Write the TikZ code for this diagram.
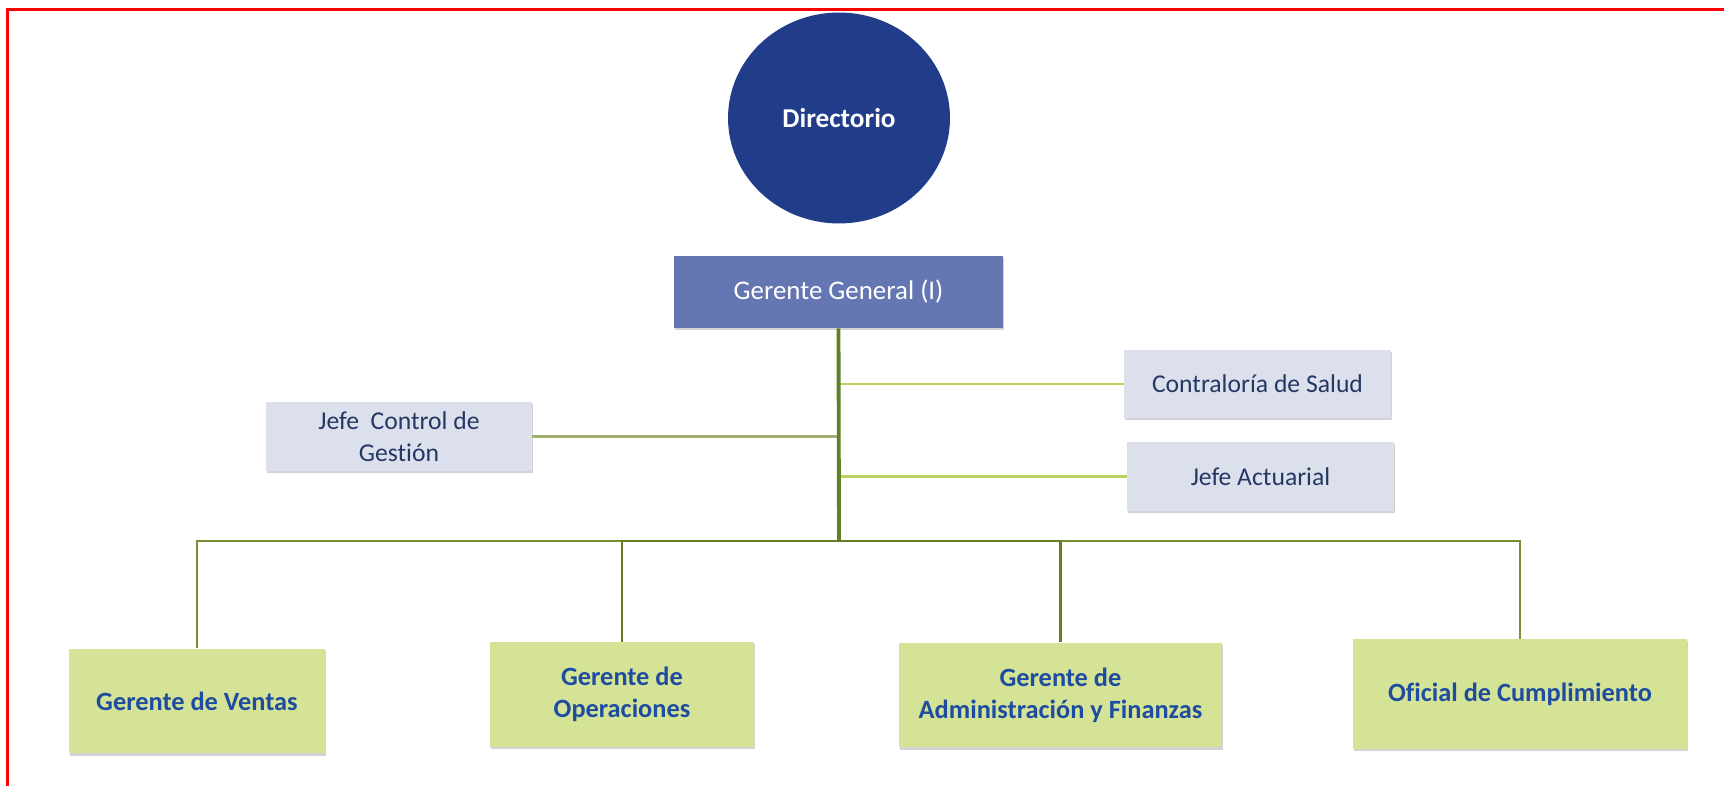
\documentclass[tikz,border=0pt]{standalone}
\usepackage{fontspec}
\setmainfont{Carlito}[Ligatures=NoCommon]
\usetikzlibrary{shapes.geometric,shadows,positioning}
\definecolor{boardblue}{RGB}{33,61,137}
\definecolor{gmblue}{RGB}{101,119,179}
\definecolor{staffgray}{RGB}{220,224,236}
\definecolor{staffink}{RGB}{36,56,100}
\definecolor{mgrgreen}{RGB}{212,227,150}
\definecolor{mgrink}{RGB}{30,76,160}
\definecolor{trunkolive}{RGB}{98,126,38}
\definecolor{dropolive}{RGB}{118,142,52}
\definecolor{sidelime}{RGB}{184,212,92}
\definecolor{sidegray}{RGB}{160,176,112}
\tikzset
{
    board/.style    = {ellipse, fill=boardblue, text=white, minimum width=4.44cm, minimum height=4.22cm, inner sep=0pt, font=\fontsize{15.5}{18}\selectfont\bfseries},
    headbox/.style  = {rectangle, fill=gmblue, text=white, minimum width=6.58cm, minimum height=1.44cm, font=\fontsize{15.3}{18}\selectfont, drop shadow={shadow xshift=0.6pt, shadow yshift=-1.2pt, opacity=0.35}},
    staffbox/.style = {rectangle, fill=staffgray, text=staffink, minimum width=5.34cm, minimum height=1.37cm, align=center, font=\fontsize{14.6}{18}\selectfont, drop shadow={shadow xshift=0.6pt, shadow yshift=-1.2pt, opacity=0.35}},
    mgrbox/.style   = {rectangle, fill=mgrgreen, text=mgrink, minimum height=2.1cm, align=center, font=\fontsize{15}{18.2}\selectfont\bfseries, drop shadow={shadow xshift=0.6pt, shadow yshift=-1.2pt, opacity=0.35}},
    trunk/.style    = {draw=trunkolive, line width=2.2pt},
    drop/.style     = {draw=dropolive, line width=0.8pt},
    side/.style     = {draw=#1, line width=1.2pt}
}

\begin{document}
\begin{tikzpicture}[x=0.02cm, y=-0.02cm]
\useasboundingbox (0,0) rectangle (1724,786);
\draw[red, line width=1.2pt] (1724,9.5) -- (7.5,9.5) -- (7.5,786);
% upper levels
\node(dir) [board] at (839,118) {Directorio};
\node(gg) [headbox] at (838.5,292) {Gerente General (I)};
\node(jcg) [staffbox, minimum width=5.32cm] at (399,436.5) {Jefe\ \ Control de\\Gestión};
\node(cs) [staffbox] at (1257.5,384) {Contraloría de Salud};
\node(ja) [staffbox] at (1260.5,476.5) {Jefe Actuarial};
% managers
\node(gv) [mgrbox, minimum width=5.12cm] at (197,701) {Gerente de Ventas};
\node(go) [mgrbox, minimum width=5.28cm] at (622,694.5) {Gerente de\\Operaciones};
\node(gaf) [mgrbox, minimum width=6.46cm] at (1060.5,695) {Gerente de\\Administración y Finanzas};
\node(oc) [mgrbox, minimum width=6.68cm, minimum height=2.2cm] at (1520,694) {Oficial de Cumplimiento};
\coordinate(bus) at (839,541);
\draw[drop] (gv.north) |- (bus);
\draw[drop] (oc.north) |- (bus);
\draw[trunk, line width=1.2pt] (go.north) |- (bus);
\draw[trunk, line width=1.2pt] (gaf.north) |- (bus);
\draw[side=sidegray] (jcg.east) -- (jcg.east -| gg.south);
\draw[side=sidelime] (cs.west) -- (cs.west -| gg.south);
\draw[side=sidelime] (ja.west) -- (ja.west -| gg.south);
\draw[trunk] (gg.south) -- (bus);
\end{tikzpicture}
\end{document}
